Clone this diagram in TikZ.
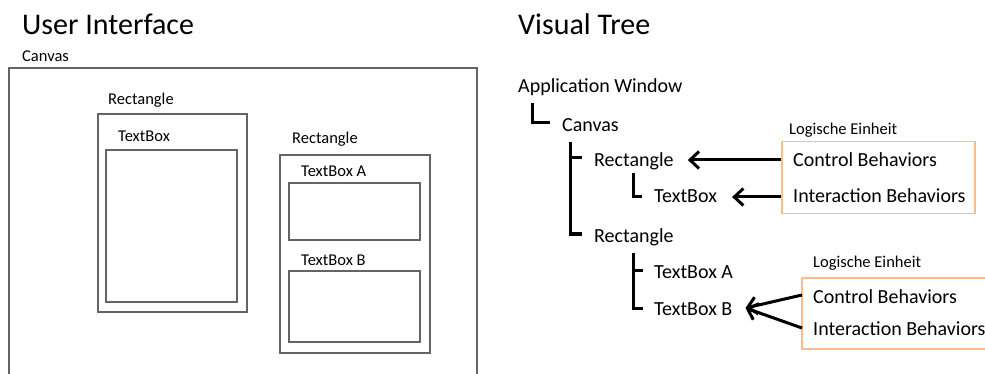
\documentclass[tikz,border=0pt]{standalone}
\usepackage{fontspec}
\setmainfont{Carlito}
\usetikzlibrary{arrows.meta,calc}
\definecolor{frame}{RGB}{100,100,100}
\definecolor{unit}{RGB}{250,190,140}

\begin{document}
\begin{tikzpicture}[x=1pt,y=-1pt,
  title/.style={anchor=base west,inner sep=0,font=\fontsize{30}{34}\selectfont},
  uilabel/.style={anchor=base west,inner sep=0,font=\fontsize{16.5}{19}\selectfont},
  treelabel/.style={anchor=base west,inner sep=0,font=\fontsize{20}{24}\selectfont},
  uibox/.style={draw=frame,line width=1.6pt,anchor=north west,inner sep=0},
  unitbox/.style={draw=unit,line width=1.5pt,anchor=north west,inner sep=0},
  branch/.style={line width=3pt},
  link/.style={line width=3pt,-{Straight Barb[length=9pt,width=17pt]}},
]
\useasboundingbox (0,0) rectangle (985,374);
\clip (0,0) rectangle (985,374);
\fill[white] (0,0) rectangle (985,374);

% ---------- left: layout of the user interface ----------
\node[title] (uiTitle) at (22,35) {User Interface};
\node[uilabel] (canvasLbl) at (22,62) {Canvas};
\draw[draw=frame,line width=1.6pt] (9,380) |- (477,68) -- (477,380);

\node[uilabel] (rectLblA) at (108,105) {Rectangle};
\node[uibox,minimum width=149,minimum height=198] (rectA) at (97,113) {};
\node[uilabel] (tbLbl) at (118,142) {TextBox};
\node[uibox,minimum width=131,minimum height=152] (tbBox) at (105,149) {};

\node[uilabel] (rectLblB) at (292,144) {Rectangle};
\node[uibox,minimum width=150,minimum height=198] (rectB) at (279,154) {};
\node[uilabel] (tbaLbl) at (301,177) {TextBox A};
\node[uibox,minimum width=131,minimum height=57] (tbaBox) at (288,182) {};
\node[uilabel] (tbbLbl) at (301,265) {TextBox B};
\node[uibox,minimum width=131,minimum height=71] (tbbBox) at (288,270) {};

% ---------- right: visual tree ----------
\node[title] (vtTitle) at (518,35) {Visual Tree};
\node[treelabel] (aw) at (518,93) {Application Window};
\node[treelabel] (cv) at (562,132) {Canvas};
\node[treelabel] (r1) at (594,167) {Rectangle};
\node[treelabel] (tb) at (654,203) {TextBox};
\node[treelabel] (r2) at (594,242) {Rectangle};
\node[treelabel] (tA) at (654,278) {TextBox A};
\node[treelabel] (tB) at (654,315) {TextBox B};

\draw[branch] ($(aw.base west)+(14,10)$) |- ($(cv.base west)+(-12,-9)$);
\draw[branch] ($(cv.base west)+(8,10)$) |- ($(r2.base west)+(-12,-8)$);
\draw[branch] ($(r1.base west)+(-24,-9)$) -- ($(r1.base west)+(-12,-9)$);
\draw[branch] ($(r1.base west)+(39,6)$) |- ($(tb.base west)+(-12,-6)$);
\draw[branch] ($(r2.base west)+(39,11)$) |- ($(tB.base west)+(-11,-7)$);
\draw[branch] ($(tA.base west)+(-21,-8)$) -- ($(tA.base west)+(-11,-8)$);

% ---------- logical units ----------
\node[uilabel] (luLblA) at (789,135) {Logische Einheit};
\node[unitbox,minimum width=193,minimum height=72] (luA) at (781,141) {};
\node[treelabel] (cbA) at (793,167) {Control Behaviors};
\node[treelabel] (ibA) at (793,203) {Interaction Behaviors};

\node[uilabel] (luLblB) at (813,267) {Logische Einheit};
\node[unitbox,minimum width=200,minimum height=71] (luB) at (801,277) {};
\node[treelabel] (cbB) at (813,303) {Control Behaviors};
\node[treelabel] (ibB) at (813,335) {Interaction Behaviors};

\draw[link] ($(cbA.base west)+(-12,-7)$) -- ($(r1.base east)+(14,-7)$);
\draw[link] ($(ibA.base west)+(-12,-6)$) -- ($(tb.base east)+(15,-6)$);
\draw[link] ($(cbB.base west)+(-11,-8)$) -- ($(tB.base east)+(13,-7)$);
\draw[link] ($(ibB.base west)+(-11,-7)$) -- ($(tB.base east)+(13,-7)$);
\end{tikzpicture}
\end{document}
